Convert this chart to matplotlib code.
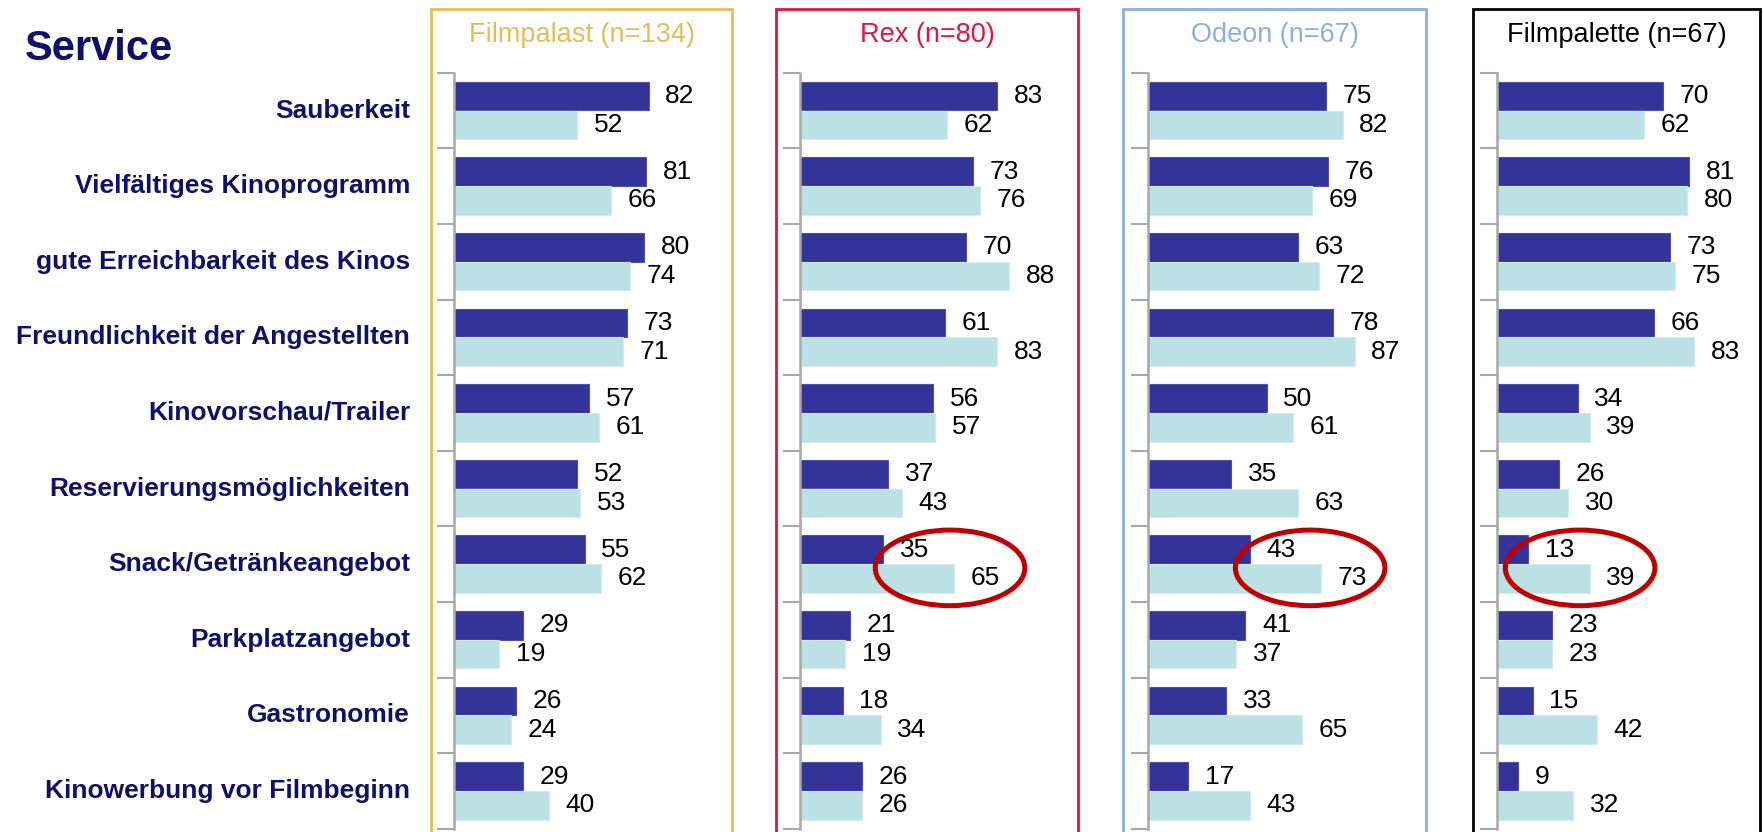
import matplotlib.pyplot as plt
from matplotlib.patches import Rectangle, Ellipse
from matplotlib.transforms import blended_transform_factory

plt.rcParams['font.family'] = ['Liberation Sans', 'DejaVu Sans']

# Data
categories = ['Sauberkeit', 'Vielfältiges Kinoprogramm', 'gute Erreichbarkeit des Kinos',
              'Freundlichkeit der Angestellten', 'Kinovorschau/Trailer',
              'Reservierungsmöglichkeiten', 'Snack/Getränkeangebot', 'Parkplatzangebot',
              'Gastronomie', 'Kinowerbung vor Filmbeginn']
kinos = ['Filmpalast (n=134)', 'Rex (n=80)', 'Odeon (n=67)', 'Filmpalette (n=67)']
filmpalast_dark = [82, 81, 80, 73, 57, 52, 55, 29, 26, 29]
filmpalast_light = [52, 66, 74, 71, 61, 53, 62, 19, 24, 40]
rex_dark = [83, 73, 70, 61, 56, 37, 35, 21, 18, 26]
rex_light = [62, 76, 88, 83, 57, 43, 65, 19, 34, 26]
odeon_dark = [75, 76, 63, 78, 50, 35, 43, 41, 33, 17]
odeon_light = [82, 69, 72, 87, 61, 63, 73, 37, 65, 43]
filmpalette_dark = [70, 81, 73, 66, 34, 26, 13, 23, 15, 9]
filmpalette_light = [62, 80, 75, 83, 39, 30, 39, 23, 42, 32]
dark_values = [filmpalast_dark, rex_dark, odeon_dark, filmpalette_dark]
light_values = [filmpalast_light, rex_light, odeon_light, filmpalette_light]
highlight_row = 6                 # Snack/Getränkeangebot
highlight_panels = [1, 2, 3]

# Layout (pixels)
W, H = 1763, 832
axis_x = [454, 800, 1148, 1497]
box_x = [(431, 732), (776, 1078), (1123, 1426), (1473, 1760)]
frame_colors = ['#E5BD57', '#E2163C', '#8FAEE0', '#000000']
ellipse_shift = {1: -1.8, 2: -4.7, 3: -4.0}   # ellipse centre relative to light bar end
px_per_unit = 2.374
x_max = 110
y_top, y_bot = 72.7, 828.7
navy = '#10106B'
dark_col = '#333399'
light_col = '#BCE1E4'
gray = '#A8A8A8'

fig = plt.figure(figsize=(W / 100, H / 100), dpi=100)

fig.text(25 / W, 1 - 49 / H, 'Service', fontsize=30, fontweight='bold',
         color=navy, va='center', ha='left')

axes = []
for i in range(4):
    ax = fig.add_axes([axis_x[i] / W, 1 - y_bot / H,
                       x_max * px_per_unit / W, (y_bot - y_top) / H])
    axes.append(ax)
    rows = range(len(categories))
    ax.barh([r + 0.31 for r in rows], dark_values[i], height=0.377,
            color=dark_col, edgecolor='#5050A8', linewidth=0.8)
    ax.barh([r + 0.69 for r in rows], light_values[i], height=0.377,
            color=light_col, edgecolor='#D2ECEE', linewidth=0.8)
    for r in rows:
        ax.annotate(str(dark_values[i][r]), xy=(dark_values[i][r], r + 0.31),
                    xytext=(12, 0), textcoords='offset points',
                    va='center', ha='left', fontsize=19, annotation_clip=False)
        ax.annotate(str(light_values[i][r]), xy=(light_values[i][r], r + 0.69),
                    xytext=(12, 0), textcoords='offset points',
                    va='center', ha='left', fontsize=19, annotation_clip=False)
    ax.set_xlim(0, x_max)
    ax.set_ylim(len(categories), 0)
    ax.set_yticks(range(len(categories) + 1))
    ax.set_yticklabels([])
    ax.set_xticks([])
    ax.tick_params(axis='y', direction='out', length=12, width=1.5, color=gray)
    for s in ['top', 'right', 'bottom']:
        ax.spines[s].set_visible(False)
    ax.spines['left'].set_color(gray)
    ax.spines['left'].set_linewidth(1.8)

    if i in highlight_panels:
        lv = light_values[i][highlight_row]
        ax.add_patch(Ellipse((lv + ellipse_shift[i], highlight_row + 0.55),
                             width=63, height=1.0, fill=False,
                             edgecolor='#C00000', linewidth=3.6, clip_on=False))

    # frame and title
    x0, x1 = box_x[i]
    fig.add_artist(Rectangle((x0 / W, -0.05), (x1 - x0) / W, 1.05 - 9 / H,
                             transform=fig.transFigure, fill=False,
                             edgecolor=frame_colors[i], linewidth=2))
    fig.text((x0 + x1) / 2 / W, 1 - 35 / H, kinos[i], ha='center', va='center',
             fontsize=19.5, color=frame_colors[i])

# category labels
trans = blended_transform_factory(fig.transFigure, axes[0].transData)
for r, cat in enumerate(categories):
    axes[0].text(410 / W, r + 0.5, cat, transform=trans, ha='right', va='center',
                 fontsize=19, fontweight='bold', color=navy)

plt.savefig('out.png', dpi=100)
